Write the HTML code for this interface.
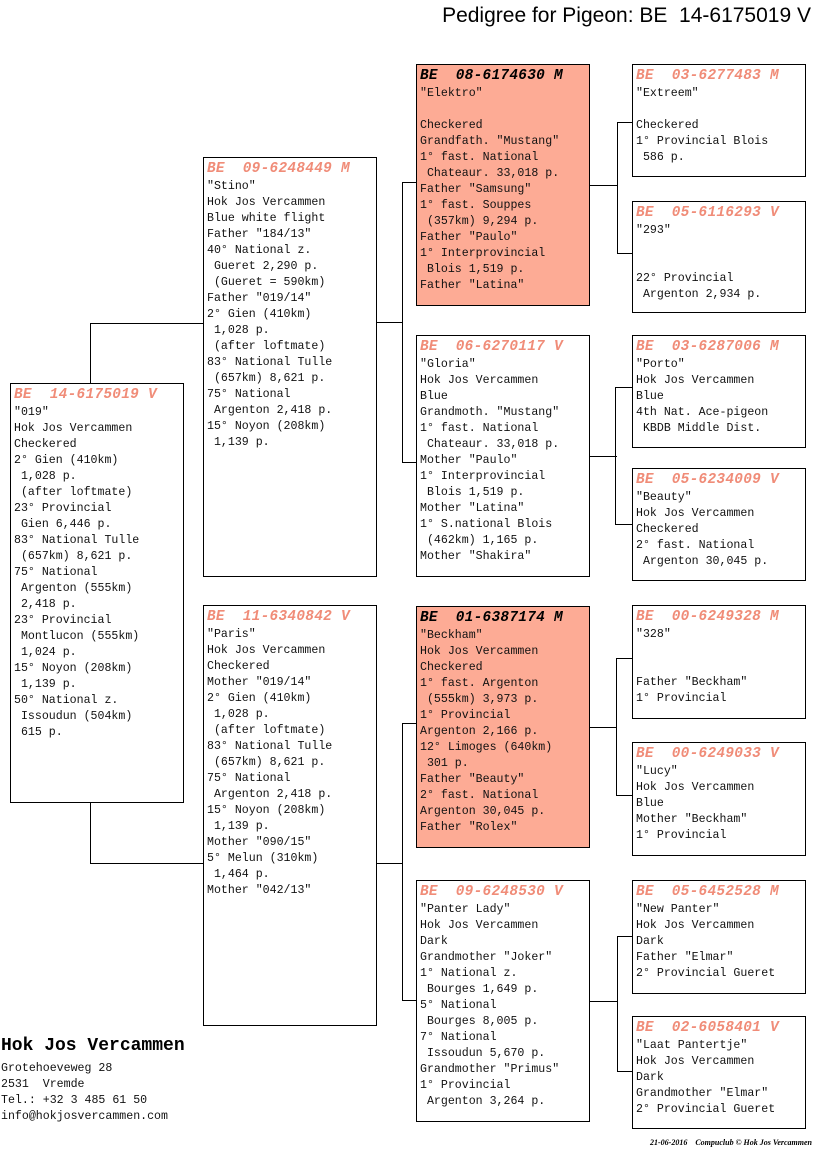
<!DOCTYPE html>
<html><head><meta charset="utf-8"><style>
body{margin:0;width:816px;height:1172px;background:#fff;position:relative;overflow:hidden;font-family:"Liberation Mono","DejaVu Sans Mono",monospace;}
.b{position:absolute;box-sizing:border-box;border:1px solid #000;background:#fff;padding:2px 0 0 3px;font-size:11.6px;line-height:16px;white-space:pre;color:#111;overflow:hidden}
.s{background:#fdab95}
.h{font-weight:bold;font-style:italic;font-size:14.4px;line-height:19px;color:#f08c78;letter-spacing:0.3px}
.s .h{color:#000}
.l{position:absolute;background:#000}
</style></head><body>
<div style="position:absolute;right:5px;top:4px;font-family:'Liberation Sans',sans-serif;font-size:21px;color:#000">Pedigree for Pigeon: BE&nbsp; 14-6175019 V</div>

<div class="l" style="left:90px;top:323px;width:1px;height:60px"></div>
<div class="l" style="left:90px;top:323px;width:113px;height:1px"></div>
<div class="l" style="left:90px;top:802px;width:1px;height:62px"></div>
<div class="l" style="left:90px;top:863px;width:113px;height:1px"></div>

<div class="l" style="left:376px;top:322px;width:26px;height:1px"></div>
<div class="l" style="left:402px;top:182px;width:1px;height:281px"></div>
<div class="l" style="left:402px;top:182px;width:14px;height:1px"></div>
<div class="l" style="left:402px;top:462px;width:14px;height:1px"></div>

<div class="l" style="left:376px;top:863px;width:26px;height:1px"></div>
<div class="l" style="left:402px;top:723px;width:1px;height:278px"></div>
<div class="l" style="left:402px;top:723px;width:14px;height:1px"></div>
<div class="l" style="left:402px;top:1000px;width:14px;height:1px"></div>

<div class="l" style="left:589px;top:185px;width:28px;height:1px"></div>
<div class="l" style="left:617px;top:122px;width:1px;height:132px"></div>
<div class="l" style="left:617px;top:122px;width:15px;height:1px"></div>
<div class="l" style="left:617px;top:253px;width:15px;height:1px"></div>

<div class="l" style="left:589px;top:456px;width:28px;height:1px"></div>
<div class="l" style="left:615px;top:387px;width:1px;height:138px"></div>
<div class="l" style="left:615px;top:387px;width:17px;height:1px"></div>
<div class="l" style="left:615px;top:524px;width:17px;height:1px"></div>

<div class="l" style="left:589px;top:727px;width:28px;height:1px"></div>
<div class="l" style="left:616px;top:658px;width:1px;height:138px"></div>
<div class="l" style="left:616px;top:658px;width:16px;height:1px"></div>
<div class="l" style="left:616px;top:795px;width:16px;height:1px"></div>

<div class="l" style="left:589px;top:1001px;width:28px;height:1px"></div>
<div class="l" style="left:617px;top:936px;width:1px;height:136px"></div>
<div class="l" style="left:617px;top:936px;width:15px;height:1px"></div>
<div class="l" style="left:617px;top:1071px;width:15px;height:1px"></div>

<div class="b" style="left:10px;top:383px;width:174px;height:420px"><div class="h">BE  14-6175019 V</div>"019"
Hok Jos Vercammen
Checkered
2° Gien (410km)
 1,028 p.
 (after loftmate)
23° Provincial
 Gien 6,446 p.
83° National Tulle
 (657km) 8,621 p.
75° National
 Argenton (555km)
 2,418 p.
23° Provincial
 Montlucon (555km)
 1,024 p.
15° Noyon (208km)
 1,139 p.
50° National z.
 Issoudun (504km)
 615 p.</div>

<div class="b" style="left:203px;top:157px;width:174px;height:420px"><div class="h">BE  09-6248449 M</div>"Stino"
Hok Jos Vercammen
Blue white flight
Father "184/13"
40° National z.
 Gueret 2,290 p.
 (Gueret = 590km)
Father "019/14"
2° Gien (410km)
 1,028 p.
 (after loftmate)
83° National Tulle
 (657km) 8,621 p.
75° National
 Argenton 2,418 p.
15° Noyon (208km)
 1,139 p.</div>

<div class="b" style="left:203px;top:605px;width:174px;height:421px"><div class="h">BE  11-6340842 V</div>"Paris"
Hok Jos Vercammen
Checkered
Mother "019/14"
2° Gien (410km)
 1,028 p.
 (after loftmate)
83° National Tulle
 (657km) 8,621 p.
75° National
 Argenton 2,418 p.
15° Noyon (208km)
 1,139 p.
Mother "090/15"
5° Melun (310km)
 1,464 p.
Mother "042/13"</div>

<div class="b s" style="left:416px;top:64px;width:174px;height:242px"><div class="h">BE  08-6174630 M</div>"Elektro"

Checkered
Grandfath. "Mustang"
1° fast. National
 Chateaur. 33,018 p.
Father "Samsung"
1° fast. Souppes
 (357km) 9,294 p.
Father "Paulo"
1° Interprovincial
 Blois 1,519 p.
Father "Latina"</div>

<div class="b" style="left:416px;top:335px;width:174px;height:242px"><div class="h">BE  06-6270117 V</div>"Gloria"
Hok Jos Vercammen
Blue
Grandmoth. "Mustang"
1° fast. National
 Chateaur. 33,018 p.
Mother "Paulo"
1° Interprovincial
 Blois 1,519 p.
Mother "Latina"
1° S.national Blois
 (462km) 1,165 p.
Mother "Shakira"</div>

<div class="b s" style="left:416px;top:606px;width:174px;height:242px"><div class="h">BE  01-6387174 M</div>"Beckham"
Hok Jos Vercammen
Checkered
1° fast. Argenton
 (555km) 3,973 p.
1° Provincial
Argenton 2,166 p.
12° Limoges (640km)
 301 p.
Father "Beauty"
2° fast. National
Argenton 30,045 p.
Father "Rolex"</div>

<div class="b" style="left:416px;top:880px;width:174px;height:242px"><div class="h">BE  09-6248530 V</div>"Panter Lady"
Hok Jos Vercammen
Dark
Grandmother "Joker"
1° National z.
 Bourges 1,649 p.
5° National
 Bourges 8,005 p.
7° National
 Issoudun 5,670 p.
Grandmother "Primus"
1° Provincial
 Argenton 3,264 p.</div>

<div class="b" style="left:632px;top:64px;width:174px;height:113px"><div class="h">BE  03-6277483 M</div>"Extreem"

Checkered
1° Provincial Blois
 586 p.</div>
<div class="b" style="left:632px;top:201px;width:174px;height:112px"><div class="h">BE  05-6116293 V</div>"293"


22° Provincial
 Argenton 2,934 p.</div>
<div class="b" style="left:632px;top:335px;width:174px;height:113px"><div class="h">BE  03-6287006 M</div>"Porto"
Hok Jos Vercammen
Blue
4th Nat. Ace-pigeon
 KBDB Middle Dist.</div>
<div class="b" style="left:632px;top:468px;width:174px;height:113px"><div class="h">BE  05-6234009 V</div>"Beauty"
Hok Jos Vercammen
Checkered
2° fast. National
 Argenton 30,045 p.</div>
<div class="b" style="left:632px;top:605px;width:174px;height:114px"><div class="h">BE  00-6249328 M</div>"328"


Father "Beckham"
1° Provincial</div>
<div class="b" style="left:632px;top:742px;width:174px;height:114px"><div class="h">BE  00-6249033 V</div>"Lucy"
Hok Jos Vercammen
Blue
Mother "Beckham"
1° Provincial</div>
<div class="b" style="left:632px;top:880px;width:174px;height:114px"><div class="h">BE  05-6452528 M</div>"New Panter"
Hok Jos Vercammen
Dark
Father "Elmar"
2° Provincial Gueret</div>
<div class="b" style="left:632px;top:1016px;width:174px;height:113px"><div class="h">BE  02-6058401 V</div>"Laat Pantertje"
Hok Jos Vercammen
Dark
Grandmother "Elmar"
2° Provincial Gueret</div>

<div style="position:absolute;left:1px;top:1036px;font-family:'Liberation Mono',monospace;font-size:18px;font-weight:bold;color:#000">Hok Jos Vercammen</div>
<div style="position:absolute;left:1px;top:1061px;font-family:'Liberation Mono',monospace;font-size:11.6px;line-height:16px;white-space:pre;color:#111">Grotehoeveweg 28
2531  Vremde
Tel.: +32 3 485 61 50
info@hokjosvercammen.com</div>
<div style="position:absolute;right:4px;top:1138px;font-family:'Liberation Serif',serif;font-size:8px;font-style:italic;font-weight:bold;white-space:pre;color:#000">21-06-2016    Compuclub © Hok Jos Vercammen</div>
</body></html>
